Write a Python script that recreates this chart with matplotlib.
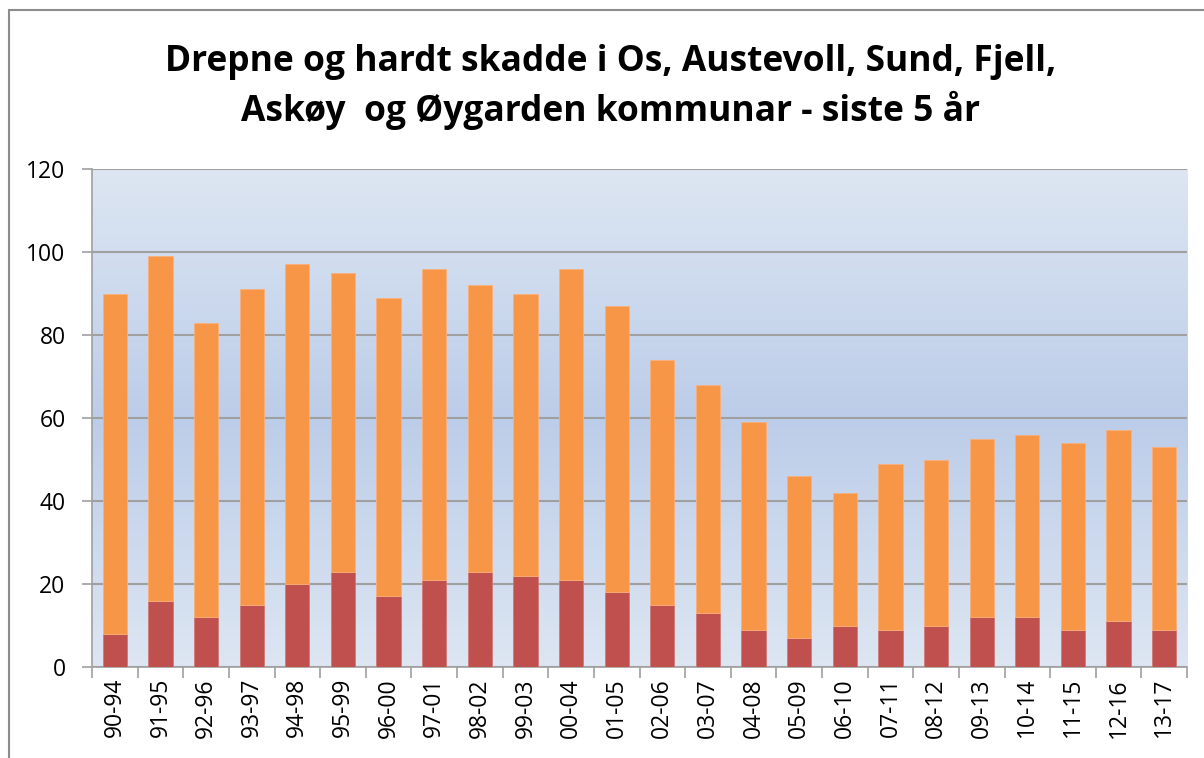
import numpy as np
import matplotlib.pyplot as plt
from matplotlib.colors import LinearSegmentedColormap
from matplotlib.patches import Rectangle

# Data
perioder = ["90-94", "91-95", "92-96", "93-97", "94-98", "95-99", "96-00", "97-01",
            "98-02", "99-03", "00-04", "01-05", "02-06", "03-07", "04-08", "05-09",
            "06-10", "07-11", "08-12", "09-13", "10-14", "11-15", "12-16", "13-17"]
drepne = [8, 16, 12, 15, 20, 23, 17, 21, 23, 22, 21, 18, 15, 13, 9, 7, 10, 9, 10, 12, 12, 9, 11, 9]
totalt = [90, 99, 83, 91, 97, 95, 89, 96, 92, 90, 96, 87, 74, 68, 59, 46, 42, 49, 50, 55, 56, 54, 57, 53]
hardt_skadde = [t - d for t, d in zip(totalt, drepne)]

plt.rcParams['font.family'] = ['Open Sans', 'DejaVu Sans']

fig = plt.figure(figsize=(12.04, 7.58), dpi=100)
ax = fig.add_axes([92 / 1204, 1 - 667 / 758, 1095 / 1204, 498 / 758])

# figure frame (only left and top edges visible in the crop)
fig.patches.append(Rectangle((9 / 1204, -0.05), 1.1, 1 - 10 / 758 + 0.05,
                             transform=fig.transFigure, fill=False,
                             edgecolor="#8c8c8c", linewidth=1.5))

# gradient background of the plot area
grad = LinearSegmentedColormap.from_list("bg", ["#dde6f2", "#bccde9", "#dde6f2"])
ax.imshow(np.linspace(0, 1, 256).reshape(-1, 1), cmap=grad, aspect="auto",
          extent=[-0.5, len(perioder) - 0.5, 0, 120], zorder=0)

x = np.arange(len(perioder))
ax.bar(x, drepne, width=0.53, color="#c0504d", edgecolor="#d07a78", linewidth=0.6, zorder=3)
ax.bar(x, hardt_skadde, bottom=drepne, width=0.53, color="#f79646",
       edgecolor="#f9b07a", linewidth=0.6, zorder=3)

ax.set_xlim(-0.5, len(perioder) - 0.5)
ax.set_ylim(0, 120)
ax.set_yticks(range(0, 121, 20))
ax.set_xticks(x)
ax.set_xticklabels(perioder, rotation=90)
ax.grid(axis="y", color="#a0a0a0", linewidth=1.5, zorder=1)
ax.set_axisbelow(True)

for s in ["top", "right"]:
    ax.spines[s].set_visible(False)
ax.spines["left"].set_color("#a0a0a0")
ax.spines["bottom"].set_color("#a0a0a0")
ax.spines["left"].set_linewidth(1.2)
ax.spines["bottom"].set_linewidth(1.2)
ax.tick_params(axis="both", colors="#a0a0a0", labelcolor="black", labelsize=16.5,
               length=7, width=1.2)
ax.tick_params(axis="y", pad=12)
ax.set_xticks(np.arange(-0.5, len(perioder), 1), minor=True)
ax.tick_params(axis="x", which="major", length=0, pad=8)
ax.tick_params(axis="x", which="minor", length=8, color="#a0a0a0", width=1.2)

fig.text(0.507, 1 - 62 / 758, "Drepne og hardt skadde i Os, Austevoll, Sund, Fjell,",
         ha="center", va="center", fontsize=25.5, fontweight="bold")
fig.text(0.507, 1 - 110 / 758, "Askøy  og Øygarden kommunar - siste 5 år",
         ha="center", va="center", fontsize=25.5, fontweight="bold")

fig.savefig("out.png", dpi=100)
